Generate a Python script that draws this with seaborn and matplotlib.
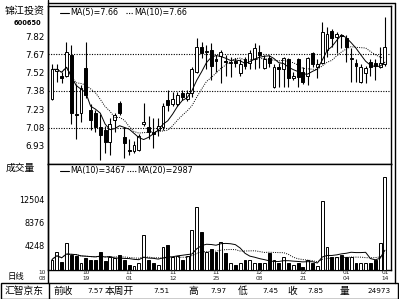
import numpy as np
import pandas as pd
import matplotlib
matplotlib.use("Agg")
import matplotlib.pyplot as plt
import seaborn as sns
from matplotlib.lines import Line2D
from matplotlib.patches import Rectangle

# ---------------- data ----------------
open_ = [7.31, 7.54, 7.50, 7.50, 7.67, 7.19, 7.20, 7.56, 7.22, 7.20,
         7.08, 7.06, 6.96, 7.14, 7.28, 7.00, 6.90, 6.89, 6.90, 7.11,
         7.08, 7.04, 7.06, 7.08, 7.30, 7.27, 7.27, 7.36, 7.31, 7.36,
         7.53, 7.73, 7.69, 7.71, 7.63, 7.66, 7.62, 7.60, 7.62, 7.52,
         7.63, 7.60, 7.63, 7.69, 7.56, 7.64, 7.41, 7.57, 7.55, 7.63,
         7.48, 7.63, 7.53, 7.50, 7.68, 7.57, 7.60, 7.71, 7.86, 7.81,
         7.83, 7.80, 7.63, 7.60, 7.45, 7.52, 7.61, 7.60, 7.57, 7.59]
close = [7.55, 7.55, 7.48, 7.69, 7.20, 7.18, 7.40, 7.34, 7.14, 7.08,
         7.02, 6.96, 7.11, 7.18, 7.20, 6.95, 6.89, 6.94, 7.01, 7.12,
         7.04, 7.03, 7.09, 7.25, 7.26, 7.31, 7.34, 7.33, 7.36, 7.55,
         7.73, 7.68, 7.70, 7.58, 7.62, 7.69, 7.61, 7.61, 7.60, 7.59,
         7.58, 7.68, 7.72, 7.67, 7.63, 7.60, 7.57, 7.55, 7.64, 7.48,
         7.50, 7.49, 7.45, 7.64, 7.59, 7.59, 7.85, 7.84, 7.80, 7.84,
         7.82, 7.73, 7.64, 7.58, 7.57, 7.56, 7.57, 7.58, 7.60, 7.73]
high = [7.59, 7.59, 7.53, 7.77, 7.75, 7.43, 7.42, 7.77, 7.27, 7.22,
        7.19, 7.09, 7.16, 7.20, 7.29, 7.08, 6.99, 6.97, 7.03, 7.28,
        7.17, 7.16, 7.16, 7.28, 7.38, 7.37, 7.37, 7.38, 7.38, 7.57,
        7.80, 7.77, 7.75, 7.76, 7.67, 7.71, 7.67, 7.65, 7.64, 7.63,
        7.65, 7.71, 7.76, 7.75, 7.67, 7.67, 7.59, 7.60, 7.65, 7.64,
        7.53, 7.64, 7.57, 7.65, 7.69, 7.63, 7.93, 7.89, 7.88, 7.85,
        7.84, 7.83, 7.72, 7.63, 7.59, 7.58, 7.63, 7.63, 7.73, 7.97]
low = [7.30, 7.45, 7.44, 7.49, 7.11, 6.99, 7.12, 7.32, 7.06, 7.04,
       6.82, 6.87, 6.86, 7.04, 7.18, 6.83, 6.86, 6.87, 6.89, 7.09,
       6.99, 6.91, 7.01, 7.06, 7.21, 7.25, 7.25, 7.30, 7.29, 7.33,
       7.52, 7.64, 7.55, 7.46, 7.53, 7.44, 7.50, 7.49, 7.57, 7.50,
       7.55, 7.55, 7.55, 7.56, 7.55, 7.57, 7.40, 7.41, 7.41, 7.41,
       7.46, 7.41, 7.43, 7.42, 7.57, 7.48, 7.59, 7.65, 7.73, 7.68,
       7.72, 7.61, 7.45, 7.45, 7.44, 7.44, 7.50, 7.46, 7.56, 7.58]
volume = [1780, 3130, 1350, 4730, 2550, 2370, 1070, 1960, 1780, 1780,
          3130, 1480, 2240, 1960, 2550, 1780, 770, 600, 1200, 6100,
          1650, 1070, 800, 4020, 4330, 2150, 2370, 1650, 2370, 7120,
          11040, 6700, 3150, 3620, 3030, 4920, 2850, 1070, 770, 1070,
          1660, 1660, 1190, 1190, 1190, 2850, 1660, 1070, 2140, 1070,
          890, 1070, 360, 1660, 1070, 590, 12230, 3920, 2140, 2140,
          2670, 2140, 2140, 1070, 1070, 1070, 1070, 1780, 4750, 16500]

date_months = ["10", "10", "11", "11", "11", "12", "12", "01", "01"]
date_days = ["08", "19", "01", "12", "25", "08", "21", "04", "14"]
date_pos = [-2, 7, 16, 25, 34, 43, 52, 61, 69]

price_tick_vals = [7.82, 7.672, 7.523, 7.375, 7.227, 7.078, 6.93]
price_tick_labels = ["7.82", "7.67", "7.52", "7.38", "7.23", "7.08", "6.93"]
price_grid_vals = [7.672, 7.375, 7.078]
vol_tick_vals = [12504, 8376, 4248]
vol_tick_labels = ["12504", "8376", "4248"]

title = "锦江投资"
code = "600650"
price_legend = ["MA(5)=7.66", "MA(10)=7.66"]
vol_legend = ["MA(10)=3467", "MA(20)=2987"]
bar_labels = [("汇智京东", 24, 'center'), ("前收", 53, 'left'), ("7.57", 87, 'left'),
              ("本周开", 105, 'left'), ("7.51", 153, 'left'), ("高", 188, 'left'),
              ("7.97", 210, 'left'), ("低", 238, 'left'), ("7.45", 262, 'left'),
              ("收", 287, 'left'), ("7.85", 307, 'left'), ("量", 340, 'left'),
              ("24973", 391, 'right')]

# ---------------- style ----------------
sns.set_theme(style="white")
plt.rcParams['font.family'] = ['DejaVu Sans', 'Noto Sans CJK SC']
plt.rcParams['axes.unicode_minus'] = False

W, H = 399, 299
fig = plt.figure(figsize=(W / 100, H / 100), dpi=100, facecolor='white')


def fx(px):
    return px / W


def fy(py):
    return 1 - py / H


def fline(x0, y0, x1, y1, **kw):
    kw.setdefault('color', 'black')
    kw.setdefault('lw', 1.0)
    fig.add_artist(Line2D([fx(x0), fx(x1)], [fy(y0), fy(y1)], **kw))


def ftext(px, py, s, **kw):
    kw.setdefault('va', 'center')
    kw.setdefault('color', 'black')
    fig.text(fx(px), fy(py), s, **kw)


ax_p = fig.add_axes([fx(48), fy(164), fx(391) - fx(48), fy(6) - fy(164)])
ax_v = fig.add_axes([fx(48), fy(269.5), fx(391) - fx(48), fy(164) - fy(269.5)])

df = pd.DataFrame({'i': np.arange(len(close)), 'open': open_, 'close': close,
                   'high': high, 'low': low, 'volume': volume})
df['up'] = df['close'] >= df['open']
df['ma5'] = df['close'].rolling(5, min_periods=1).mean()
df['ma10'] = df['close'].rolling(10, min_periods=1).mean()
df['vma10'] = df['volume'].rolling(10, min_periods=1).mean()
df['vma20'] = df['volume'].rolling(20, min_periods=1).mean()
colors = np.where(df['up'], 'white', 'black')
dotted = (0, (1, 1.3))

# ---------------- price panel ----------------
for v in price_grid_vals:
    ax_p.axhline(v, color='black', lw=0.8, ls=dotted, zorder=1)
ax_p.vlines(df['i'], df['low'], df['high'], color='black', lw=0.8, zorder=2)
body_bottom = np.minimum(df['open'], df['close'])
body_h = np.maximum((df['close'] - df['open']).abs(), 0.006)
ax_p.bar(df['i'], body_h, bottom=body_bottom, width=0.6, color=colors,
         edgecolor='black', linewidth=0.7, zorder=3)
sns.lineplot(data=df, x='i', y='ma5', ax=ax_p, color='black', lw=0.7, zorder=4)
sns.lineplot(data=df, x='i', y='ma10', ax=ax_p, color='black', lw=0.7,
             linestyle=dotted, zorder=4)
ax_p.set_xlim(-0.83, 70.26)
ax_p.set_ylim(6.784, 8.063)
ax_p.set_xticks([])
ax_p.set_yticks(price_tick_vals)
ax_p.set_yticklabels(price_tick_labels, fontsize=6.3)
ax_p.tick_params(axis='y', length=0, pad=2.5, colors='black')
ax_p.set_xlabel('')
ax_p.set_ylabel('')

# ---------------- volume panel ----------------
ax_v.bar(df['i'], df['volume'], width=0.6, color=colors, edgecolor='black',
         linewidth=0.7, zorder=3)
sns.lineplot(data=df, x='i', y='vma10', ax=ax_v, color='black', lw=0.7, zorder=4)
sns.lineplot(data=df, x='i', y='vma20', ax=ax_v, color='black', lw=0.7,
             linestyle=dotted, zorder=4)
ax_v.set_xlim(-0.83, 70.26)
ax_v.set_ylim(0, 18780)
ax_v.set_xticks([])
ax_v.set_yticks(vol_tick_vals)
ax_v.set_yticklabels(vol_tick_labels, fontsize=5.8)
ax_v.tick_params(axis='y', length=0, pad=2.5, colors='black')
ax_v.set_xlabel('')
ax_v.set_ylabel('')

for ax in (ax_p, ax_v):
    ax.set_facecolor('white')
    for s in ax.spines.values():
        s.set_visible(True)
        s.set_color('black')
        s.set_linewidth(1.0)

xt = ax_v.get_xaxis_transform()
for m, d, p in zip(date_months, date_days, date_pos):
    ax_v.text(p, -0.028, m, transform=xt, ha='center', va='center',
              fontsize=4.2, clip_on=False)
    ax_v.text(p, -0.084, d, transform=xt, ha='center', va='center',
              fontsize=4.2, clip_on=False)

# ---------------- frame ----------------
fline(48, 2.5, 395, 2.5)
fline(395, 2.5, 395, 283)
fline(48, 0, 48, 283)
fig.add_artist(Rectangle((fx(0.5), fy(298.5)), fx(398) - fx(0.5), fy(283) - fy(298.5),
                         transform=fig.transFigure, fill=False, edgecolor='black', lw=1.0))
fline(49, 283, 49, 298.5)

# ---------------- texts ----------------
ftext(25, 11, title, ha='center', fontsize=7.2)
ftext(27, 23, code, ha='center', fontsize=4.8, fontweight='bold')
ftext(20, 168, "成交量", ha='center', fontsize=7)
ftext(16, 276, "日线", ha='center', fontsize=6)

# legends
fline(60, 13, 69, 13, lw=0.8)
ftext(70, 13, price_legend[0], ha='left', fontsize=5.8)
fline(126, 13, 133, 13, lw=0.8, ls=dotted)
ftext(134, 13, price_legend[1], ha='left', fontsize=5.8)
fline(60, 171, 69, 171, lw=0.8)
ftext(70, 171, vol_legend[0], ha='left', fontsize=5.8)
fline(127, 171, 136, 171, lw=0.8, ls=dotted)
ftext(137, 171, vol_legend[1], ha='left', fontsize=5.8)

for s, px, ha in bar_labels:
    is_num = s[0].isdigit()
    ftext(px, 291, s, ha=ha, fontsize=5.2 if is_num else 7)

fig.savefig("out.png", dpi=100, facecolor='white')
